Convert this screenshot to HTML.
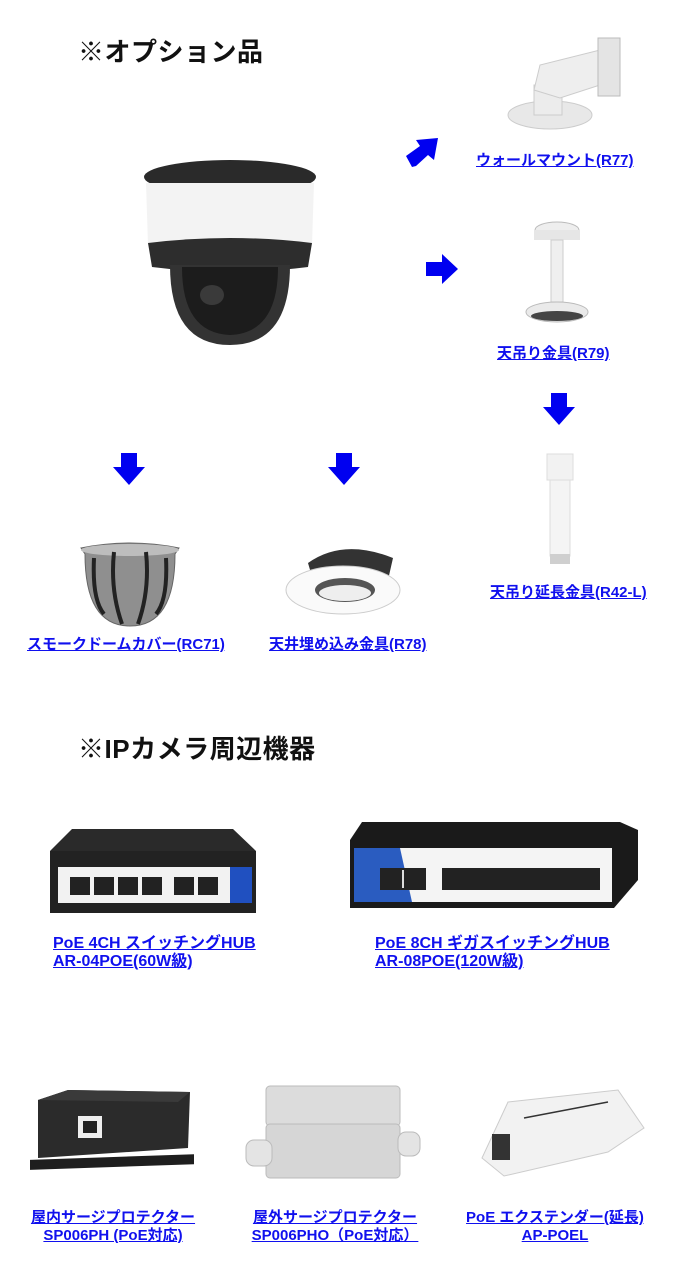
<!DOCTYPE html>
<html><head><meta charset="utf-8"><style>
body{margin:0;width:676px;height:1278px;background:#fff;position:relative;overflow:hidden;font-family:"Liberation Sans","Noto Sans CJK JP",sans-serif}
.a{position:absolute}
.t{position:absolute;font-weight:bold;font-size:26px;color:#111;white-space:nowrap;letter-spacing:0.5px}
.l{position:absolute;color:#1010ee;font-weight:bold;font-size:15px;text-decoration:underline;white-space:nowrap;line-height:18px;letter-spacing:0}
.c{text-align:center}
</style></head><body>
<div class="t" style="left:78px;top:32px">※オプション品</div>
<div class="t" style="left:78px;top:729px">※IPカメラ周辺機器</div>

<!-- camera -->
<svg class="a" style="left:130px;top:155px" width="200" height="200">
<ellipse cx="100" cy="22" rx="86" ry="17" fill="#2a2a2a"/>
<path d="M16 28 L184 28 L182 90 L18 90 Z" fill="#f3f3f3"/>
<path d="M18 88 Q100 78 182 88 L178 112 Q100 122 22 112 Z" fill="#2d2d2d"/>
<path d="M40 110 Q40 190 100 190 Q160 190 160 110 Z" fill="#333"/>
<path d="M52 112 Q52 178 100 180 Q148 178 148 112 Z" fill="#1c1c1c"/>
<ellipse cx="82" cy="140" rx="12" ry="10" fill="#3a3a3a"/>
</svg>

<!-- arrows -->
<svg class="a" style="left:404px;top:136px" width="38" height="34"><polygon points="8,31 2,20 16,10 12,4 34,2 30,24 24,19 12,30" fill="#0000f0"/></svg>
<svg class="a" style="left:426px;top:254px" width="34" height="30"><polygon points="0,8 16,8 16,0 32,15 16,30 16,22 0,22" fill="#0000f0"/></svg>
<svg class="a" style="left:543px;top:393px" width="34" height="32"><polygon points="8,0 24,0 24,14 32,14 16,32 0,14 8,14" fill="#0000f0"/></svg>
<svg class="a" style="left:113px;top:453px" width="34" height="32"><polygon points="8,0 24,0 24,14 32,14 16,32 0,14 8,14" fill="#0000f0"/></svg>
<svg class="a" style="left:328px;top:453px" width="34" height="32"><polygon points="8,0 24,0 24,14 32,14 16,32 0,14 8,14" fill="#0000f0"/></svg>

<!-- wall mount -->
<svg class="a" style="left:500px;top:30px" width="130" height="105">
<ellipse cx="50" cy="85" rx="42" ry="14" fill="#e8e8e8" stroke="#ccc"/>
<rect x="34" y="55" width="28" height="30" fill="#ececec" stroke="#ccc"/>
<path d="M34 60 L40 35 L100 20 L100 55 L60 68 Z" fill="#eee" stroke="#ccc"/>
<rect x="98" y="8" width="22" height="58" fill="#e4e4e4" stroke="#bbb"/>
</svg>
<div class="l" style="left:476px;top:152px">ウォールマウント(R77)</div>

<!-- ceiling mount -->
<svg class="a" style="left:520px;top:220px" width="75" height="110">
<ellipse cx="37" cy="10" rx="22" ry="8" fill="#eee" stroke="#bbb"/>
<rect x="14" y="10" width="46" height="10" fill="#e6e6e6"/>
<rect x="31" y="20" width="12" height="62" fill="#efefef" stroke="#ccc"/>
<ellipse cx="37" cy="92" rx="31" ry="10" fill="#eaeaea" stroke="#bbb"/>
<ellipse cx="37" cy="96" rx="26" ry="5" fill="#444"/>
</svg>
<div class="l" style="left:497px;top:345px">天吊り金具(R79)</div>

<!-- extension -->
<svg class="a" style="left:540px;top:450px" width="40" height="120">
<rect x="7" y="4" width="26" height="26" fill="#f2f2f2" stroke="#ddd"/>
<rect x="10" y="30" width="20" height="76" fill="#f4f4f4" stroke="#ddd"/>
<rect x="10" y="104" width="20" height="10" fill="#cfcfcf"/>
</svg>
<div class="l" style="left:490px;top:584px">天吊り延長金具(R42-L)</div>

<!-- smoke dome -->
<svg class="a" style="left:78px;top:540px" width="104" height="90">
<path d="M3 8 Q52 -2 101 8 L97 14 Q97 86 52 86 Q7 86 7 14 Z" fill="#8f8f8f" stroke="#666"/>
<ellipse cx="52" cy="10" rx="49" ry="6" fill="#bdbdbd"/>
<path d="M36 12 Q32 50 44 84 M68 12 Q72 50 60 84 M16 18 Q14 60 26 74 M88 18 Q90 60 78 74" stroke="#222" stroke-width="4" fill="none"/>
</svg>
<div class="l" style="left:27px;top:636px">スモークドームカバー(RC71)</div>

<!-- ceiling embed -->
<svg class="a" style="left:283px;top:538px" width="125" height="82">
<path d="M25 25 Q60 0 110 20 L105 42 L30 42 Z" fill="#333"/>
<ellipse cx="60" cy="52" rx="57" ry="24" fill="#fafafa" stroke="#ccc"/>
<ellipse cx="62" cy="52" rx="30" ry="12" fill="#555"/>
<ellipse cx="62" cy="55" rx="26" ry="8" fill="#eee"/>
</svg>
<div class="l" style="left:269px;top:636px">天井埋め込み金具(R78)</div>

<!-- switch 1 -->
<svg class="a" style="left:50px;top:827px" width="206" height="88">
<polygon points="0,24 22,2 183,2 206,24" fill="#2a2a2a"/>
<rect x="0" y="24" width="206" height="62" fill="#222"/>
<rect x="8" y="40" width="186" height="36" fill="#f2f2f2"/>
<rect x="180" y="40" width="22" height="36" fill="#2050c0"/>
<g fill="#222"><rect x="20" y="50" width="20" height="18"/><rect x="44" y="50" width="20" height="18"/><rect x="68" y="50" width="20" height="18"/><rect x="92" y="50" width="20" height="18"/><rect x="124" y="50" width="20" height="18"/><rect x="148" y="50" width="20" height="18"/></g>
</svg>

<!-- switch 2 -->
<svg class="a" style="left:350px;top:820px" width="288" height="90">
<polygon points="12,2 270,2 288,10 288,60 264,88 0,88 0,20" fill="#1a1a1a"/>
<rect x="4" y="28" width="258" height="54" fill="#f4f4f4"/>
<polygon points="4,28 50,28 62,82 4,82" fill="#2a5cc0"/>
<g fill="#222"><rect x="30" y="48" width="46" height="22"/><rect x="92" y="48" width="158" height="22"/></g>
<g fill="#ddd"><rect x="52" y="50" width="2" height="18"/></g>
</svg>

<div class="l" style="left:53px;top:935px;font-size:16px">PoE 4CH スイッチングHUB<br>AR-04POE(60W級)</div>
<div class="l" style="left:375px;top:935px;font-size:16px">PoE 8CH ギガスイッチングHUB<br>AR-08POE(120W級)</div>

<!-- protector indoor -->
<svg class="a" style="left:28px;top:1088px" width="170" height="88">
<polygon points="10,12 40,2 162,4 160,60 10,70" fill="#2b2b2b"/>
<polygon points="10,12 40,2 162,4 150,14" fill="#3a3a3a"/>
<rect x="2" y="72" width="164" height="10" fill="#1e1e1e" transform="skewY(-2)"/>
<rect x="50" y="28" width="24" height="22" fill="#eee"/>
<rect x="55" y="33" width="14" height="12" fill="#222"/>
</svg>

<!-- protector outdoor -->
<svg class="a" style="left:244px;top:1080px" width="178" height="102">
<rect x="22" y="6" width="134" height="40" rx="4" fill="#dcdcdc" stroke="#bbb"/>
<rect x="22" y="44" width="134" height="54" rx="4" fill="#d6d6d6" stroke="#bbb"/>
<rect x="2" y="60" width="26" height="26" rx="8" fill="#e4e4e4" stroke="#bbb"/>
<rect x="154" y="52" width="22" height="24" rx="8" fill="#e4e4e4" stroke="#bbb"/>
</svg>

<!-- extender -->
<svg class="a" style="left:468px;top:1088px" width="180" height="100">
<polygon points="40,14 150,2 176,40 140,64 36,88 14,70" fill="#f2f2f2" stroke="#ccc"/>
<rect x="24" y="46" width="18" height="26" fill="#333"/>
<path d="M56 30 L140 14" stroke="#333" stroke-width="1.5"/>
</svg>

<div class="l c" style="left:13px;top:1209px;width:200px">屋内サージプロテクター<br>SP006PH (PoE対応)</div>
<div class="l c" style="left:235px;top:1209px;width:200px">屋外サージプロテクター<br>SP006PHO（PoE対応）</div>
<div class="l c" style="left:450px;top:1209px;width:210px">PoE エクステンダー(延長)<br>AP-POEL</div>
</body></html>
